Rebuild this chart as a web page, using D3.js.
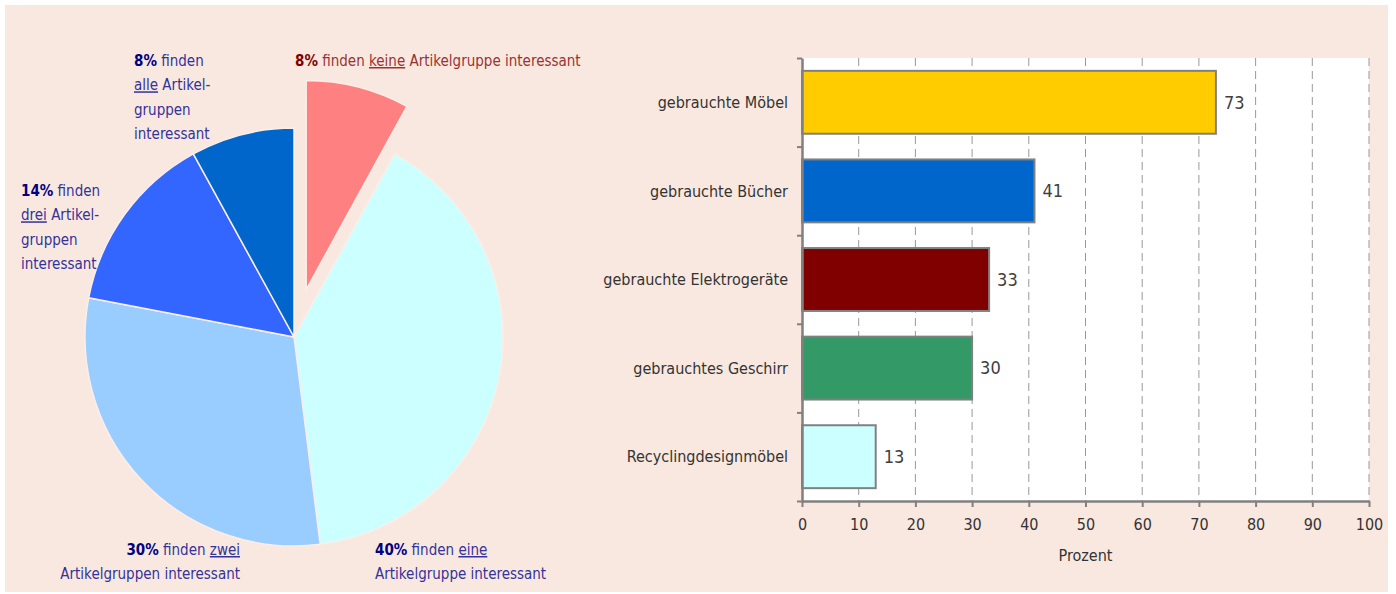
<!DOCTYPE html>
<html><head><meta charset="utf-8">
<script src="https://cdn.jsdelivr.net/npm/d3@7"></script>
<style>
body{margin:0;background:#fff;}
svg{display:block;}
text{font-family:"Liberation Sans Narrow","DejaVu Sans Condensed",sans-serif;}
</style></head>
<body><svg id="c" width="1396" height="594"></svg>
<script>
// ---- Pie data ----
const pieKeys = ["keine", "eine", "zwei", "drei", "alle"];
const pieValues = [8, 40, 30, 14, 8];
const pieColors = ["#ff8080", "#ccffff", "#99ccff", "#3366ff", "#0066cc"];
const pieLabelLines = {
  keine: [["8%", " finden ", "keine", " Artikelgruppe interessant"]],
  alle: [["8%", " finden"], ["", "", "alle", " Artikel-"], ["", "gruppen"], ["", "interessant"]],
  drei: [["14%", " finden"], ["", "", "drei", " Artikel-"], ["", "gruppen"], ["", "interessant"]],
  zwei: [["30%", " finden ", "zwei"], ["", "Artikelgruppen interessant"]],
  eine: [["40%", " finden ", "eine"], ["", "Artikelgruppe interessant"]]
};
// ---- Bar data ----
const barCategories = ["gebrauchte Möbel", "gebrauchte Bücher", "gebrauchte Elektrogeräte", "gebrauchtes Geschirr", "Recyclingdesignmöbel"];
const barValues = [73, 41, 33, 30, 13];
const barColors = ["#ffcc00", "#0066cc", "#800000", "#339966", "#ccffff"];
const xTicks = [0, 10, 20, 30, 40, 50, 60, 70, 80, 90, 100];
const xTitle = "Prozent";

(function () {
const svg = d3.select("#c");
svg.append("rect").attr("x", 5).attr("y", 5).attr("width", 1383).attr("height", 587).attr("fill", "#f9e8e0");

// ---- Pie ----
const cx = 294, cy = 337, R = 209, explode = 49;
const pie = d3.pie().sort(null).value(d => d)(pieValues);
const arc = d3.arc().innerRadius(0).outerRadius(R);
const pg = svg.append("g").attr("transform", `translate(${cx},${cy})`);
pg.selectAll("path").data(pie).join("path")
  .attr("d", arc)
  .attr("fill", (d, i) => pieColors[i])
  .attr("stroke", "#fbeee8").attr("stroke-width", 1.5)
  .attr("transform", (d, i) => {
    if (pieKeys[i] !== "keine") return null;
    const a = (d.startAngle + d.endAngle) / 2;
    return `translate(${explode * Math.sin(a)},${-explode * Math.cos(a)})`;
  });

function pieLabel(key, x, y, anchor, color, boldColor) {
  const lines = pieLabelLines[key];
  const t = svg.append("text").attr("x", x).attr("y", y).attr("text-anchor", anchor)
    .attr("font-size", 15).attr("fill", color);
  lines.forEach((parts, li) => {
    parts.forEach((p, pi) => {
      if (p === "") return;
      const ts = t.append("tspan").text(p);
      const first = parts.findIndex(q => q !== "") === pi;
      if (first) ts.attr("x", x).attr("dy", li === 0 ? 0 : 24.3);
      if (pi === 0) ts.attr("font-weight", "bold").attr("fill", boldColor);
      if (pi === 2) ts.style("text-decoration", "underline");
    });
  });
}
pieLabel("keine", 295, 66, "start", "#993333", "#800000");
pieLabel("alle", 134, 66, "start", "#333399", "#000080");
pieLabel("drei", 21, 196, "start", "#333399", "#000080");
pieLabel("zwei", 240, 555, "end", "#333399", "#000080");
pieLabel("eine", 375, 555, "start", "#333399", "#000080");

// ---- Bars ----
const pl = 802, pr = 1369, pt = 58, pb = 501;
const x = d3.scaleLinear().domain([0, 100]).range([pl, pr]);
const y = d3.scaleBand().domain(barCategories).range([pt, pb]).paddingInner(0.29).paddingOuter(0.145);
svg.append("rect").attr("x", pl).attr("y", pt).attr("width", pr - pl).attr("height", pb - pt).attr("fill", "#fff");
svg.append("g").selectAll("line").data(xTicks.slice(1)).join("line")
  .attr("x1", d => x(d)).attr("x2", d => x(d)).attr("y1", pt).attr("y2", pb)
  .attr("stroke", "#999").attr("stroke-width", 1).attr("stroke-dasharray", "8,5");
svg.append("g").selectAll("rect").data(barValues).join("rect")
  .attr("x", x(0)).attr("y", (d, i) => y(barCategories[i]))
  .attr("width", d => x(d) - x(0)).attr("height", y.bandwidth())
  .attr("fill", (d, i) => barColors[i]).attr("stroke", "#808080").attr("stroke-width", 2);
svg.append("g").selectAll("text").data(barValues).join("text")
  .attr("x", d => x(d) + 8).attr("y", (d, i) => y(barCategories[i]) + y.bandwidth() / 2)
  .attr("dy", "0.35em").attr("font-size", 18).attr("fill", "#404040").text(d => d);

const xAxis = svg.append("g").attr("transform", `translate(0,${pb})`)
  .call(d3.axisBottom(x).tickValues(xTicks).tickSize(6).tickSizeOuter(0).tickPadding(12));
xAxis.select(".domain").attr("stroke", "#808080").attr("stroke-width", 2.5);
xAxis.selectAll(".tick line").attr("stroke", "#808080").attr("stroke-width", 2);
xAxis.selectAll("text").attr("font-size", 16).attr("fill", "#333").attr("font-family", null);

const yAxisScale = d3.scaleLinear().domain([0, 5]).range([pt, pb]);
const yAxis = svg.append("g").attr("transform", `translate(${pl},0)`)
  .call(d3.axisLeft(yAxisScale).tickValues([0, 1, 2, 3, 4, 5]).tickSize(5).tickSizeOuter(0).tickFormat(""));
yAxis.select(".domain").attr("stroke", "#808080").attr("stroke-width", 2.5);
yAxis.selectAll(".tick line").attr("stroke", "#808080").attr("stroke-width", 2);

svg.append("g").selectAll("text").data(barCategories).join("text")
  .attr("x", 788).attr("y", d => y(d) + y.bandwidth() / 2).attr("dy", "0.35em")
  .attr("text-anchor", "end").attr("font-size", 16).attr("fill", "#333").text(d => d);

svg.append("text").attr("x", (pl + pr) / 2).attr("y", 561).attr("text-anchor", "middle")
  .attr("font-size", 16).attr("fill", "#333").text(xTitle);
})();
</script></body></html>
